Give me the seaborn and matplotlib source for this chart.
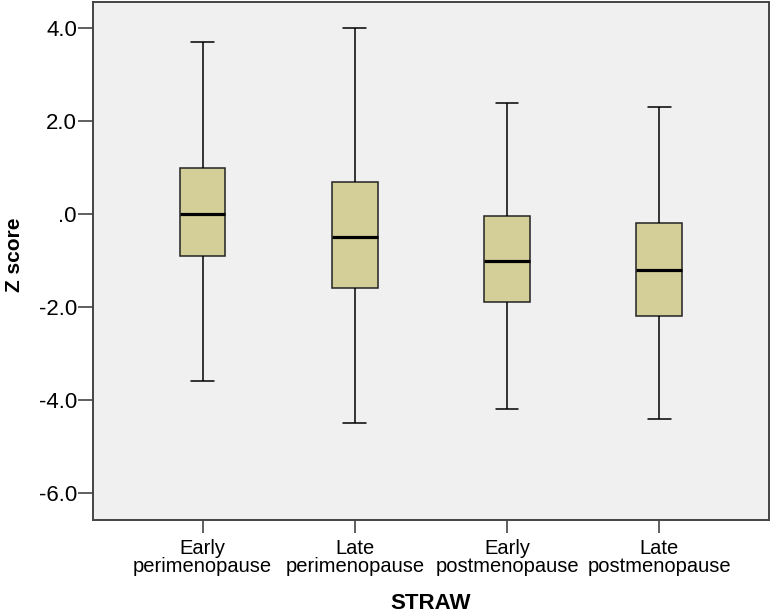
import numpy as np
import pandas as pd
import seaborn as sns
from matplotlib import pyplot as plt

# five-number summaries (whisker low, Q1, median, Q3, whisker high)
groups = ['Early\nperimenopause', 'Late\nperimenopause', 'Early\npostmenopause', 'Late\npostmenopause']
low = [-3.6, -4.5, -4.2, -4.4]
q1 = [-0.9, -1.6, -1.9, -2.2]
med = [0.0, -0.5, -1.0, -1.2]
q3 = [1.0, 0.7, -0.05, -0.2]
high = [3.7, 4.0, 2.4, 2.3]

yticks = [4.0, 2.0, 0.0, -2.0, -4.0, -6.0]
ytick_labels = ['4.0', '2.0', '.0', '-2.0', '-4.0', '-6.0']

# with 5 points and whis=inf, the quartiles land exactly on the summary values
rows = []
for g, a, b, c, d, e in zip(groups, low, q1, med, q3, high):
    for v in (a, b, c, d, e):
        rows.append({'STRAW': g, 'Z score': v})
df = pd.DataFrame(rows)

sns.set_style('ticks')
plt.rcParams['font.family'] = ['Liberation Sans', 'DejaVu Sans']
plt.rcParams['text.color'] = 'black'
plt.rcParams['axes.labelcolor'] = 'black'
plt.rcParams['xtick.color'] = 'black'
plt.rcParams['ytick.color'] = 'black'

fig = plt.figure(figsize=(7.74, 6.15), dpi=100)
ax = fig.add_axes([0.120, 0.1545, 0.8735, 0.842])
ax.set_facecolor('#f0f0f0')

sns.boxplot(data=df, x='STRAW', y='Z score', order=groups, whis=np.inf,
            width=0.3, color='#d4cf98', saturation=1, linewidth=1.1,
            linecolor='#222222',
            medianprops={'color': 'black', 'linewidth': 2.3},
            whiskerprops={'color': 'black', 'linewidth': 1.1},
            capprops={'color': 'black', 'linewidth': 1.1},
            ax=ax)

ax.set_xlim(-0.72, 3.72)
ax.set_ylim(-6.58, 4.56)
ax.set_yticks(yticks)
ax.set_yticklabels(ytick_labels, fontsize=16)
ax.set_xticks(range(len(groups)))
ax.set_xticklabels(groups, fontsize=14.5, linespacing=0.95)
for s in ax.spines.values():
    s.set_visible(True)
    s.set_color('#444444')
    s.set_linewidth(1.4)
ax.tick_params(axis='y', direction='out', length=10.5, width=1.2, color='#444444', pad=1)
ax.tick_params(axis='x', direction='out', length=9.5, width=1.2, color='#444444', pad=4)

ax.set_ylabel('Z score', fontsize=15, fontweight='bold')
ax.yaxis.set_label_coords(-0.102, 0.512)
ax.set_xlabel('STRAW', fontsize=16, fontweight='bold', labelpad=12)

plt.savefig('out.png', dpi=100)
